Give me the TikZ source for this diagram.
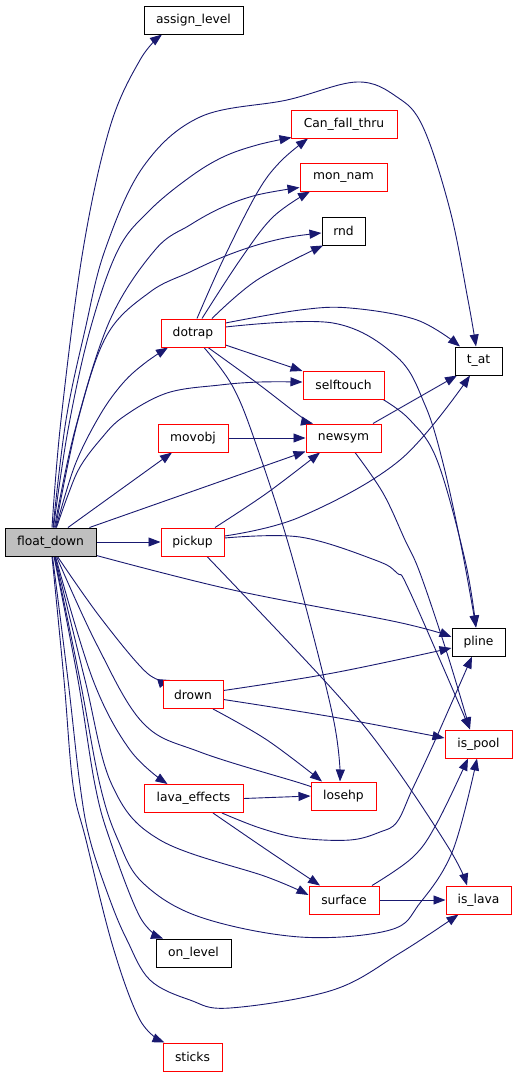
\documentclass[tikz,border=0pt]{standalone}
\usepackage{fontspec}
\setmainfont{DejaVu Sans}
\usetikzlibrary{arrows.meta}
\pgfdeclarelayer{edges}
\pgfsetlayers{edges,main}
\definecolor{edgec}{HTML}{191970}
\definecolor{redc}{HTML}{FF0000}
\definecolor{grayc}{HTML}{BFBFBF}
\tikzset{
 box/.style={draw, line width=1pt, fill=white, minimum height=28pt, inner sep=0pt, font=\fontsize{12.3}{14}\selectfont},
 rbox/.style={box, draw=redc},
 kbox/.style={box, draw=black},
 edge/.style={draw=edgec, line width=0.9pt, -{Triangle[length=12pt,width=9pt]}},
 sm/.style={smooth, tension=0.6}
}
\begin{document}
\begin{tikzpicture}[x=1pt,y=-1pt]
\useasboundingbox (0,0) rectangle (517,1077);
% nodes
\node[kbox, fill=grayc, minimum width=91pt] (fd) at (50.5,542) {float\_down};
\node[kbox, minimum width=99pt] (al) at (193.5,20) {assign\_level};
\node[rbox, minimum width=106pt] (cft) at (344,124) {Can\_fall\_thru};
\node[rbox, minimum width=87pt] (mn) at (343.5,177) {mon\_nam};
\node[kbox, minimum width=43pt] (rnd) at (343.5,231) {rnd};
\node[rbox, minimum width=64pt] (dotrap) at (193,333) {dotrap};
\node[kbox, minimum width=47pt] (tat) at (478.5,361) {t\_at};
\node[rbox, minimum width=81pt] (st) at (343.5,385) {selftouch};
\node[rbox, minimum width=70pt] (mov) at (193,438) {movobj};
\node[rbox, minimum width=75pt] (ns) at (343.5,438) {newsym};
\node[rbox, minimum width=63pt] (pick) at (192.5,542) {pickup};
\node[kbox, minimum width=53pt] (pline) at (478.5,642) {pline};
\node[rbox, minimum width=60pt] (drown) at (193,694.5) {drown};
\node[rbox, minimum width=67pt] (ispool) at (478.5,744) {is\_pool};
\node[rbox, minimum width=65pt] (losehp) at (343.5,796) {losehp};
\node[rbox, minimum width=99pt] (lava) at (193.5,798.5) {lava\_effects};
\node[rbox, minimum width=70pt] (surf) at (344,900) {surface};
\node[rbox, minimum width=65pt] (islava) at (478.5,900) {is\_lava};
\node[kbox, minimum width=75pt] (onl) at (193.5,953) {on\_level};
\node[rbox, minimum width=59pt] (sticks) at (192.5,1057) {sticks};
\begin{pgfonlayer}{edges}
% edges from float_down (top)
\draw[edge] plot[sm] coordinates {([xshift=1.5pt]fd.north) (61,420) (83,250) (110,127) (140,60) ([xshift=-31.5pt]al.south)};
\draw[edge] plot[sm] coordinates {([xshift=2.5pt]fd.north) (66,420) (85,330) (105,250) (143,167) (200,117) (287,100) (357,82) (397,97) (423,127) (450,210) (468,300) ([xshift=-2.5pt]tat.north)};
\draw[edge] plot[sm] coordinates {([xshift=3pt]fd.north) (68,430) (90,330) (118,250) (150,210) (190,177) (223,157) (257,145) ([xshift=1pt,yshift=1pt]cft.south west)};
\draw[edge] plot[sm] coordinates {([xshift=4pt]fd.north) (75,430) (110,320) (155,250) (190,225) (223,207) (257,195) ([yshift=4pt]mn.south west)};
\draw[edge] plot[sm] coordinates {([xshift=5pt]fd.north) (78,420) (107,335) (150,292) (190,272) (223,257) (257,245) (290,237) ([yshift=-2pt]rnd.west)};
\draw[edge] plot[sm] coordinates {([xshift=5.5pt]fd.north) (75,465) (100,415) (123,383) (145,363) ([xshift=-25pt]dotrap.south)};
\draw[edge] plot[sm] coordinates {([xshift=6pt]fd.north) (68,495) (80,467) (100,440) (123,417) (167,393) (220,385) (260,382) ([yshift=3pt]st.west)};
\draw[edge] ([xshift=17.5pt]fd.north) -- ([xshift=-21pt]mov.south);
\draw[edge] ([xshift=39pt]fd.north) -- ([yshift=1pt]ns.south west);
\draw[edge] (fd.east) -- (pick.west);
% edges from float_down (bottom)
\draw[edge] plot[sm] coordinates {([yshift=1pt]fd.south east) (233,590) (397,622) ([yshift=5pt]pline.west)};
\draw[edge] plot[sm] coordinates {([xshift=7pt]fd.south) (100,617) (147,673) ([xshift=-23pt]drown.north)};
\draw[edge] plot[sm] coordinates {([xshift=6pt]fd.south) (97,645) (143,723) (200,752) (300,783) ([yshift=9pt]losehp.west)};
\draw[edge] plot[sm] coordinates {([xshift=5pt]fd.south) (93,680) (130,750) ([xshift=-26pt]lava.north)};
\draw[edge] plot[sm] coordinates {([xshift=4.5pt]fd.south) (85,680) (112,785) (160,840) (267,877) ([yshift=5pt]surf.west)};
\draw[edge] plot[sm] coordinates {([xshift=4pt]fd.south) (80,680) (100,785) (118,840) (143,883) (200,917) (300,937) (390,930) (420,903) (453,850) ([xshift=-1.5pt]ispool.south)};
\draw[edge] plot[sm] coordinates {([xshift=3.5pt]fd.south) (78,680) (95,785) (110,840) (140,917) ([xshift=-30.5pt]onl.north)};
\draw[edge] plot[sm] coordinates {([xshift=2pt]fd.south) (68,680) (80,785) (90,840) (110,900) (127,940) (150,980) (190,1000) (230,1008) (333,990) (400,953) ([xshift=-20pt]islava.south)};
\draw[edge] plot[sm] coordinates {([xshift=1.5pt]fd.south) (64,680) (73,785) (86,840) (113,947) (140,1020) ([xshift=-28pt]sticks.north)};
% edges from dotrap
\draw[edge] plot[sm] coordinates {([xshift=4pt]dotrap.north) (223,260) (257,193) (280,162) ([xshift=-36pt]cft.south)};
\draw[edge] plot[sm] coordinates {([xshift=9pt]dotrap.north) (240,260) (273,217) ([xshift=-33.5pt]mn.south)};
\draw[edge] plot[sm] coordinates {([xshift=19pt]dotrap.north) (257,280) ([xshift=-20.5pt]rnd.south)};
\draw[edge] plot[sm] coordinates {([yshift=10pt]dotrap.east) (300,310) (350,308) (417,320) ([xshift=-18.5pt]tat.north)};
\draw[edge] plot[sm] coordinates {([yshift=6pt]dotrap.east) (333,323) (397,357) (425,405) (443,463) (462,550) ([xshift=-2.5pt]pline.north)};
\draw[edge] ([yshift=-12pt]dotrap.east) -- ([yshift=14pt]st.west);
\draw[edge] plot[sm] coordinates {([xshift=15pt]dotrap.south) (257,383) (300,416) ([xshift=-30.5pt]ns.north)};
\draw[edge] plot[sm] coordinates {([xshift=11pt]dotrap.south) (233,387) (257,447) (293,560) (333,717) ([xshift=-3.5pt]losehp.north)};
% other edges
\draw[edge] (mov.east) -- (ns.west);
\draw[edge] plot[sm] coordinates {([xshift=22.5pt]pick.north) (267,493) ([xshift=-23.5pt]ns.south)};
\draw[edge] plot[sm] coordinates {([yshift=6pt]pick.east) (300,517) (400,460) ([xshift=-8.5pt]tat.south)};
\draw[edge] ([xshift=29.5pt]ns.north) -- ([xshift=-21.5pt]tat.south);
\draw[edge] plot[sm] coordinates {([yshift=4pt]pick.east) (300,537) (375,560) (397,573) (410,592) ([xshift=-8.5pt]ispool.north)};
\draw[edge] plot[sm] coordinates {([xshift=11.5pt]ns.south) (383,493) (405,540) (420,573) (447,653) ([xshift=-8.5pt]ispool.north)};
\draw[edge] plot[sm] coordinates {([xshift=39.5pt]st.south) (410,420) (437,460) (465,560) ([xshift=-2.5pt]pline.north)};
\draw[edge] plot[sm] coordinates {([xshift=14.5pt]pick.south) (333,690) (390,760) (450,850) ([xshift=-11.5pt]islava.north)};
\draw[edge] plot[sm] coordinates {([yshift=4pt]drown.east) (333,673) ([yshift=-6pt]pline.west)};
\draw[edge] plot[sm] coordinates {([yshift=-5pt]drown.east) (333,717) ([yshift=6pt]ispool.west)};
\draw[edge] plot[sm] coordinates {([xshift=20pt]drown.south) (267,740) ([xshift=-21.5pt]losehp.north)};
\draw[edge] (lava.east) -- (losehp.west);
\draw[edge] plot[sm] coordinates {([xshift=28.5pt]lava.south) (260,828) (300,838) (350,840) (380,832) (397,822) (412,790) (433,745) ([xshift=-6.5pt]pline.south)};
\draw[edge] plot[sm] coordinates {([xshift=19.5pt]lava.south) (267,850) ([xshift=-24pt]surf.north)};
\draw[edge] plot[sm] coordinates {([xshift=28pt]surf.north) (413,857) (437,823) ([xshift=-10.5pt]ispool.south)};
\draw[edge] (surf.east) -- (islava.west);
\end{pgfonlayer}
\end{tikzpicture}
\end{document}
